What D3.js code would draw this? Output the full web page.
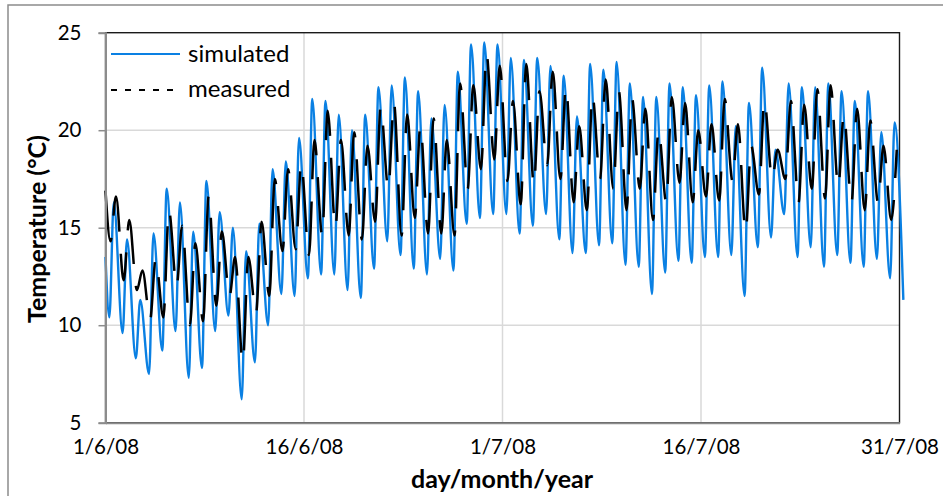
<!DOCTYPE html>
<html>
<head>
<meta charset="utf-8">
<script src="https://cdn.jsdelivr.net/npm/d3@7"></script>
<style>
  body { margin: 0; background: #fff; }
  text { font-family: Lato, "Noto Sans", sans-serif; fill: #000; }
</style>
</head>
<body>
<div id="chart"></div>
<script>
// daily extremes (deg C), day 0 = 1/6/08
var simStart = 13.5;
var simMin = [10.4, 9.6, 8.3, 7.5, 8.7, 9.7, 7.3, 7.8, 9.7, 10.5,
              6.2, 8.1, 10.0, 11.6, 11.5, 12.4, 12.6, 12.6, 11.8, 11.4,
              12.9, 14.3, 13.6, 12.9, 12.6, 13.4, 12.8, 15.2, 15.5, 15.7,
              15.7, 14.7, 15.1, 15.7, 14.4, 13.7, 13.7, 14.1, 14.2, 13.1,
              13.0, 11.6, 12.7, 13.3, 13.2, 13.5, 13.5, 13.6, 11.5, 14.0,
              14.5, 15.7, 13.5, 14.0, 13.0, 13.6, 13.2, 13.0, 13.4, 12.4,
              11.3];
var simMax = [16.3, 14.4, 11.3, 14.7, 17.0, 16.3, 14.8, 17.4, 15.8, 15.0,
              13.8, 15.2, 18.0, 18.4, 19.6, 21.6, 21.5, 20.8, 20.0, 20.8,
              22.2, 22.3, 22.7, 22.0, 20.6, 21.3, 23.0, 24.4, 24.5, 24.4,
              23.7, 23.6, 23.7, 23.3, 22.8, 20.7, 23.4, 23.1, 23.5, 22.4,
              21.7, 21.7, 22.4, 22.2, 21.8, 22.3, 22.5, 20.2, 21.4, 23.2,
              19.0, 22.4, 22.2, 22.2, 22.4, 22.0, 21.5, 22.0, 19.9, 20.4];

var measStart = 16.9;
var measMin = [14.3, 12.3, 11.8, 10.3, 10.4, 12.0, 10.0, 10.2, 11.0, 11.5,
               8.1, 10.6, 11.5, 13.8, 13.9, 13.6, 14.6, 15.0, 14.6, 14.4,
               15.3, 17.0, 14.6, 15.5, 14.7, 14.7, 14.6, 17.0, 18.0, 18.5,
               17.4, 16.2, 17.2, 18.2, 17.5, 16.3, 15.9, 17.5, 17.0, 15.9,
               17.0, 15.4, 16.3, 17.3, 16.3, 16.6, 16.4, 17.4, 14.8, 16.7,
               17.5, 17.5, 16.3, 17.0, 16.5, 17.1, 16.3, 15.9, 16.3, 15.4];
var measMax = [16.6, 15.4, 12.8, 13.4, 15.9, 15.1, 14.2, 16.6, 14.8, 13.5,
               13.5, 15.3, 17.5, 18.0, 18.3, 19.5, 21.0, 19.5, 19.9, 19.2,
               21.2, 21.4, 20.8, 20.2, 20.6, 19.5, 22.4, 22.3, 23.9, 23.3,
               21.5, 23.4, 22.0, 23.0, 22.2, 20.2, 21.8, 22.6, 22.0, 21.6,
               21.1, 20.0, 21.7, 21.4, 20.0, 20.3, 21.6, 20.3, 19.2, 21.5,
               19.0, 21.5, 21.3, 22.1, 22.3, 20.8, 21.1, 20.5, 19.2, 19.0];

// hour of day of the low and the high
var simHours = [7, 15.5];
var measHours = [9.5, 19];

var yTicks = [5, 10, 15, 20, 25];
var xTicks = ["2008-06-01", "2008-06-16", "2008-07-01", "2008-07-16", "2008-07-31"];

var width = 943, height = 496;
var margin = {left: 105.5, right: 43.5, top: 32.7, bottom: 73.3};

var svg = d3.select("#chart").append("svg")
    .attr("width", width)
    .attr("height", height);

// outer chart frame
svg.append("rect")
    .attr("x", 8).attr("y", 5)
    .attr("width", 945).attr("height", 510)
    .attr("fill", "none")
    .attr("stroke", "#8c8c8c")
    .attr("stroke-width", 1.5);

var parse = d3.utcParse("%Y-%m-%d");
var day0 = parse(xTicks[0]);

var x = d3.scaleUtc()
    .domain([day0, parse(xTicks[xTicks.length - 1])])
    .range([margin.left, width - margin.right]);
var y = d3.scaleLinear()
    .domain([5, 25])
    .range([height - margin.bottom, margin.top]);

function at(d, h) {
    return d3.utcHour.offset(day0, d * 24 + h);
}

function buildSeries(start, lows, highs, hours) {
    var pts = [{t: day0, v: start}];
    for (var d = 0; d < lows.length; d++) {
        pts.push({t: at(d, hours[0]), v: lows[d]});
        if (d < highs.length) pts.push({t: at(d, hours[1]), v: highs[d]});
    }
    return pts;
}

var sim = buildSeries(simStart, simMin, simMax, simHours);
var meas = buildSeries(measStart, measMin, measMax, measHours);

// grid
var g = svg.append("g");
g.selectAll(".hgrid")
    .data(yTicks.slice(1, -1))
    .enter().append("line")
    .attr("x1", margin.left).attr("x2", width - margin.right)
    .attr("y1", function (d) { return y(d); })
    .attr("y2", function (d) { return y(d); })
    .attr("stroke", "#d9d9d9").attr("stroke-width", 1.5);
g.selectAll(".vgrid")
    .data(xTicks.slice(1, -1))
    .enter().append("line")
    .attr("y1", margin.top).attr("y2", height - margin.bottom)
    .attr("x1", function (d) { return x(parse(d)); })
    .attr("x2", function (d) { return x(parse(d)); })
    .attr("stroke", "#d9d9d9").attr("stroke-width", 1.5);

// plot area border (top/right dark)
svg.append("rect")
    .attr("x", margin.left).attr("y", margin.top)
    .attr("width", width - margin.left - margin.right)
    .attr("height", height - margin.top - margin.bottom)
    .attr("fill", "none")
    .attr("stroke", "#1a1a1a")
    .attr("stroke-width", 1.4);

var line = d3.line()
    .x(function (d) { return x(d.t); })
    .y(function (d) { return y(d.v); })
    .curve(d3.curveMonotoneX);

svg.append("path")
    .datum(sim)
    .attr("d", line)
    .attr("fill", "none")
    .attr("stroke", "#0a80e3")
    .attr("stroke-width", 2.4);

svg.append("path")
    .datum(meas)
    .attr("d", line)
    .attr("fill", "none")
    .attr("stroke", "#000")
    .attr("stroke-width", 2.5)
    .attr("stroke-dasharray", "55,22");

// axes
var yAxis = svg.append("g")
    .attr("transform", "translate(" + margin.left + ",0)")
    .call(d3.axisLeft(y).tickValues(yTicks).tickSize(7).tickPadding(17));
yAxis.select(".domain").attr("stroke", "#8c8c8c").attr("stroke-width", 2);
yAxis.selectAll(".tick line").attr("stroke", "#8c8c8c").attr("stroke-width", 1.5);
yAxis.selectAll(".tick text").attr("font-size", 20.5).attr("font-family", "Lato");

var xAxis = svg.append("g")
    .attr("transform", "translate(0," + (height - margin.bottom) + ")")
    .call(d3.axisBottom(x)
        .tickValues(xTicks.map(parse))
        .tickFormat(d3.utcFormat("%-d/%-m/%y"))
        .tickSize(0).tickPadding(17));
xAxis.select(".domain").attr("stroke", "#8c8c8c").attr("stroke-width", 2);
xAxis.selectAll(".tick text").attr("font-size", 20.5).attr("font-family", "Lato");

// titles
svg.append("text")
    .attr("x", 502).attr("y", 488)
    .attr("text-anchor", "middle")
    .attr("font-size", 25).attr("font-weight", "bold")
    .text("day/month/year");
svg.append("text")
    .attr("transform", "translate(46,229) rotate(-90)")
    .attr("text-anchor", "middle")
    .attr("font-size", 25).attr("font-weight", "bold")
    .text("Temperature (°C)");

// legend
var legend = svg.append("g");
legend.append("line")
    .attr("x1", 111).attr("x2", 180).attr("y1", 54).attr("y2", 54)
    .attr("stroke", "#0a80e3").attr("stroke-width", 2.2);
legend.append("text")
    .attr("x", 188).attr("y", 62)
    .attr("font-size", 24)
    .text("simulated");
legend.append("line")
    .attr("x1", 111).attr("x2", 175).attr("y1", 90).attr("y2", 90)
    .attr("stroke", "#000").attr("stroke-width", 2)
    .attr("stroke-dasharray", "6,8");
legend.append("text")
    .attr("x", 188).attr("y", 97)
    .attr("font-size", 24)
    .text("measured");
</script>
</body>
</html>
